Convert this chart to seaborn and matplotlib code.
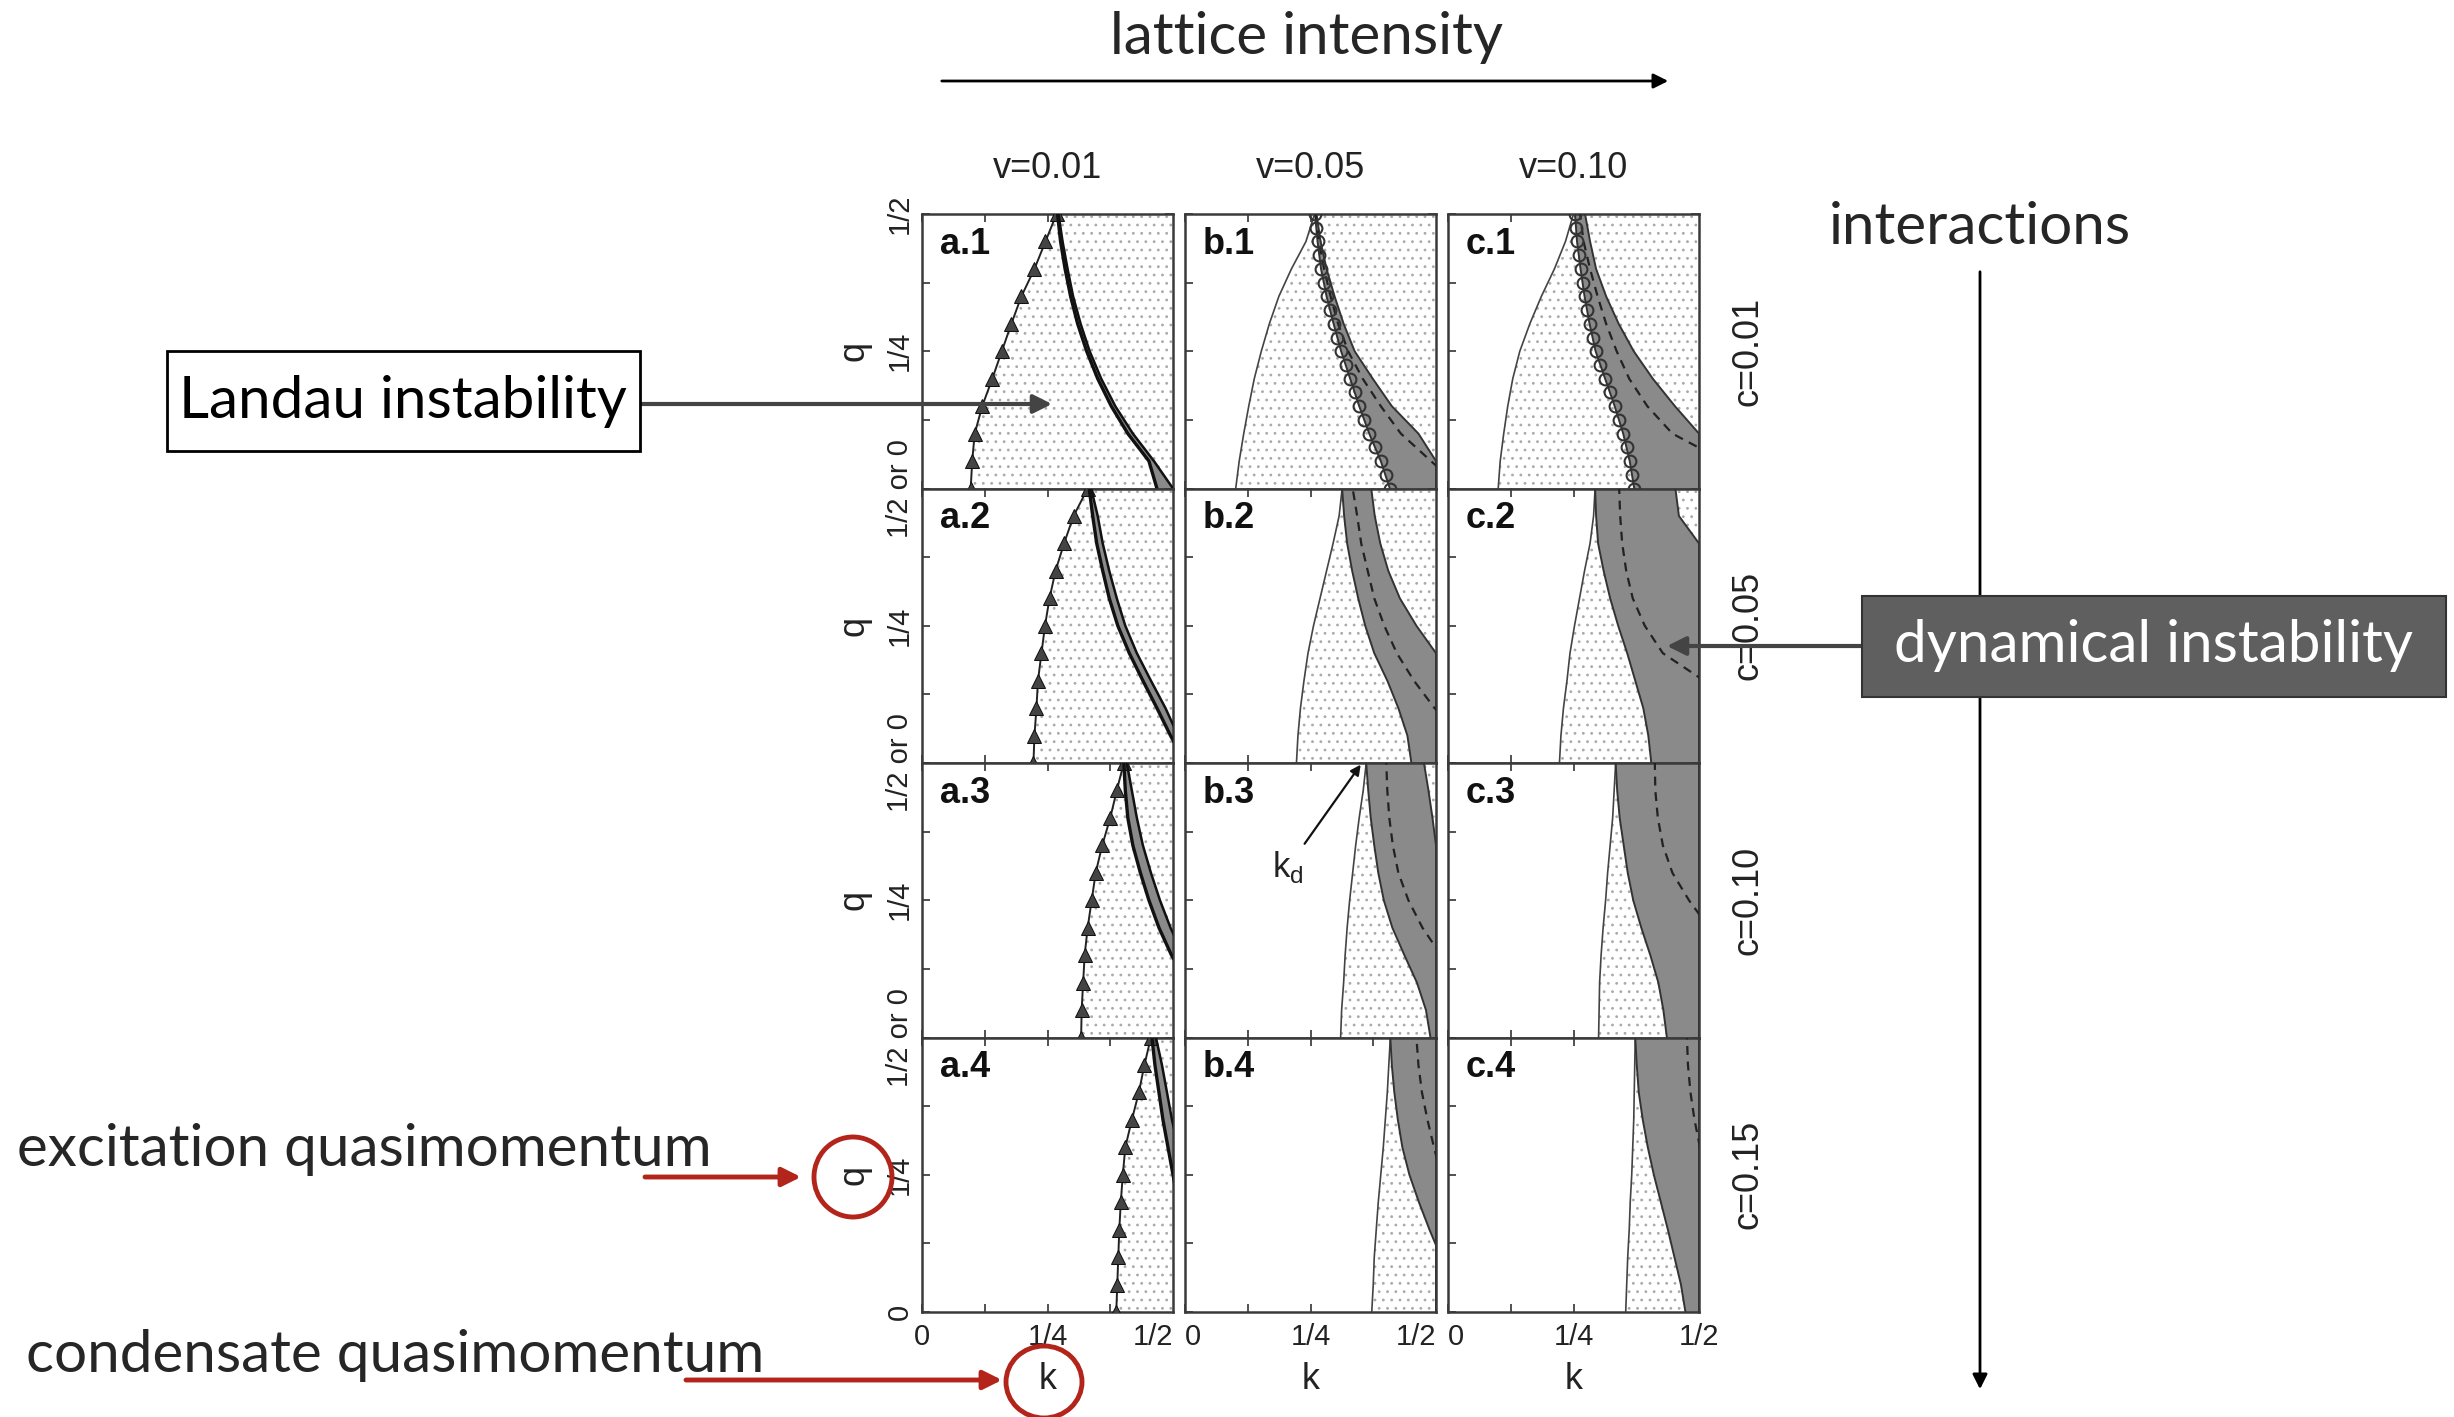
import numpy as np
import pandas as pd
import matplotlib
matplotlib.use("Agg")
import matplotlib.pyplot as plt
import seaborn as sns
from matplotlib.patches import Ellipse, Rectangle

# ---------------- data (k values read at each q of Q) ----------------
Q = [0.0, 0.05, 0.10, 0.15, 0.20, 0.25, 0.30, 0.35, 0.40, 0.45, 0.50]
CIRC_Q = [0.0, 0.025, 0.05, 0.075, 0.10, 0.125, 0.15, 0.175, 0.20, 0.225, 0.25,
          0.275, 0.30, 0.325, 0.35, 0.375, 0.40, 0.425, 0.45, 0.475, 0.50]
nan = np.nan

columns = ["v=0.01", "v=0.05", "v=0.10"]
rows = ["c=0.01", "c=0.05", "c=0.10", "c=0.15"]
tick_labels_k = ["0", "1/4", "1/2"]

landau = {
    "a.1": [0.097, 0.100, 0.105, 0.120, 0.140, 0.159, 0.178, 0.198, 0.224, 0.246, 0.268],
    "a.2": [0.222, 0.224, 0.228, 0.231, 0.238, 0.245, 0.254, 0.266, 0.283, 0.302, 0.330],
    "a.3": [0.317, 0.318, 0.321, 0.324, 0.330, 0.338, 0.346, 0.359, 0.375, 0.388, 0.402],
    "a.4": [0.387, 0.389, 0.391, 0.393, 0.396, 0.400, 0.405, 0.418, 0.432, 0.443, 0.456],
    "b.1": [0.101, 0.108, 0.117, 0.127, 0.138, 0.152, 0.168, 0.187, 0.212, 0.241, 0.258],
    "c.1": [0.100, 0.104, 0.111, 0.119, 0.129, 0.143, 0.163, 0.186, 0.212, 0.234, 0.250],
    "b.2": [0.222, 0.225, 0.230, 0.237, 0.245, 0.256, 0.269, 0.282, 0.295, 0.307, 0.313],
    "c.2": [0.222, 0.225, 0.230, 0.237, 0.243, 0.252, 0.262, 0.272, 0.283, 0.290, 0.293],
    "b.3": [0.310, 0.312, 0.316, 0.319, 0.323, 0.328, 0.334, 0.340, 0.347, 0.355, 0.361],
    "c.3": [0.300, 0.301, 0.302, 0.305, 0.309, 0.314, 0.318, 0.323, 0.328, 0.331, 0.334],
    "b.4": [0.372, 0.375, 0.377, 0.381, 0.385, 0.390, 0.395, 0.399, 0.403, 0.406, 0.409],
    "c.4": [0.354, 0.356, 0.358, 0.361, 0.363, 0.366, 0.368, 0.370, 0.371, 0.372, 0.373],
}

dyn_left = {
    "a.1": [0.468, 0.452, 0.410, 0.377, 0.350, 0.328, 0.310, 0.296, 0.285, 0.276, 0.270],
    "a.2": [0.525, 0.495, 0.468, 0.440, 0.413, 0.390, 0.373, 0.360, 0.348, 0.340, 0.333],
    "a.3": [0.600, 0.560, 0.530, 0.497, 0.472, 0.452, 0.435, 0.420, 0.410, 0.405, 0.402],
    "a.4": [0.550, 0.540, 0.530, 0.520, 0.510, 0.500, 0.490, 0.480, 0.472, 0.464, 0.458],
    "b.1": [0.408, 0.390, 0.367, 0.347, 0.329, 0.311, 0.296, 0.282, 0.271, 0.264, 0.259],
    "c.1": [0.371, 0.362, 0.349, 0.332, 0.313, 0.294, 0.282, 0.272, 0.264, 0.257, 0.253],
    "b.2": [0.451, 0.443, 0.425, 0.403, 0.377, 0.359, 0.345, 0.333, 0.323, 0.317, 0.313],
    "c.2": [0.405, 0.399, 0.389, 0.373, 0.357, 0.339, 0.323, 0.310, 0.299, 0.295, 0.293],
    "b.3": [0.489, 0.480, 0.462, 0.437, 0.413, 0.396, 0.385, 0.377, 0.370, 0.365, 0.361],
    "c.3": [0.436, 0.429, 0.419, 0.403, 0.385, 0.369, 0.358, 0.350, 0.342, 0.337, 0.334],
    "b.4": [0.570, 0.540, 0.510, 0.487, 0.466, 0.447, 0.433, 0.424, 0.417, 0.412, 0.409],
    "c.4": [0.473, 0.464, 0.451, 0.438, 0.424, 0.410, 0.398, 0.388, 0.380, 0.376, 0.373],
}

dyn_right = {
    "a.1": [0.500, 0.462, 0.420, 0.385, 0.357, 0.334, 0.316, 0.301, 0.290, 0.280, 0.272],
    "a.2": [0.540, 0.510, 0.485, 0.456, 0.428, 0.405, 0.388, 0.373, 0.360, 0.350, 0.337],
    "a.3": [0.620, 0.580, 0.550, 0.520, 0.495, 0.474, 0.456, 0.440, 0.428, 0.418, 0.408],
    "a.4": [0.570, 0.560, 0.550, 0.540, 0.530, 0.520, 0.510, 0.498, 0.488, 0.478, 0.466],
    "b.1": [0.500, 0.500, 0.465, 0.412, 0.374, 0.338, 0.316, 0.298, 0.282, 0.270, 0.262],
    "c.1": [0.500, 0.500, 0.500, 0.452, 0.408, 0.370, 0.340, 0.315, 0.295, 0.283, 0.273],
    "b.2": [0.500, 0.500, 0.500, 0.500, 0.500, 0.461, 0.428, 0.405, 0.389, 0.378, 0.371],
    "c.2": [0.500, 0.500, 0.500, 0.500, 0.500, 0.500, 0.500, 0.500, 0.500, 0.460, 0.453],
    "b.3": [0.500, 0.500, 0.500, 0.500, 0.500, 0.500, 0.500, 0.500, 0.493, 0.485, 0.476],
    "c.3": [0.500, 0.500, 0.500, 0.500, 0.500, 0.500, 0.500, 0.500, 0.500, 0.500, 0.500],
    "b.4": [0.500, 0.500, 0.500, 0.500, 0.500, 0.500, 0.500, 0.500, 0.500, 0.500, 0.500],
    "c.4": [0.500, 0.500, 0.500, 0.500, 0.500, 0.500, 0.500, 0.500, 0.500, 0.500, 0.500],
}

dashed = {
    "b.1": [0.550, 0.490, 0.430, 0.390, 0.354, 0.325, 0.305, 0.290, 0.277, 0.267, 0.260],
    "c.1": [nan, 0.550, 0.447, 0.397, 0.361, 0.336, 0.315, 0.298, 0.283, 0.270, 0.263],
    "b.2": [nan, 0.550, 0.497, 0.456, 0.422, 0.397, 0.377, 0.364, 0.351, 0.343, 0.334],
    "c.2": [nan, nan, nan, 0.510, 0.428, 0.392, 0.368, 0.355, 0.347, 0.343, 0.341],
    "b.3": [nan, nan, nan, 0.510, 0.473, 0.445, 0.425, 0.414, 0.407, 0.403, 0.401],
    "c.3": [nan, nan, nan, nan, 0.520, 0.480, 0.447, 0.428, 0.418, 0.413, 0.412],
    "b.4": [nan, nan, nan, nan, nan, 0.510, 0.496, 0.483, 0.472, 0.465, 0.461],
    "c.4": [nan, nan, nan, nan, nan, nan, 0.502, 0.491, 0.483, 0.478, 0.476],
}

circles_b1 = [0.408, 0.400, 0.390, 0.378, 0.367, 0.357, 0.347, 0.338, 0.329, 0.320, 0.311,
              0.303, 0.296, 0.289, 0.282, 0.276, 0.271, 0.267, 0.264, 0.261, 0.259]
circles_c1 = [0.371, 0.367, 0.362, 0.356, 0.349, 0.341, 0.332, 0.322, 0.313, 0.303, 0.294,
              0.288, 0.282, 0.277, 0.272, 0.268, 0.264, 0.260, 0.257, 0.255, 0.253]
circles = {"b.1": circles_b1, "c.1": circles_c1}

# ---------------- style ----------------
W, H = 2454, 1417
sns.set_theme(style="ticks")
plt.rcParams["font.family"] = ["Liberation Sans", "DejaVu Sans"]
plt.rcParams["hatch.color"] = "#a9a9a9"
plt.rcParams["hatch.linewidth"] = 0.8
SANS2 = ["Lato", "DejaVu Sans"]
DARK = "#8a8a8a"
RED = "#b3241a"
BIG = 42

fig = plt.figure(figsize=(W / 100, H / 100), dpi=100)
fig.patch.set_facecolor("white")

COL_X = [922, 1185, 1448]
COL_W = 251
ROW_Y = [214, 488.5, 763, 1037.5]
ROW_H = 274.5


def sline(ax, k, q, **kw):
    df = pd.DataFrame({"k": k, "q": q}).dropna()
    sns.lineplot(data=df, x="k", y="q", ax=ax, estimator=None, sort=False, **kw)


for r in range(4):
    for c in range(3):
        name = f"{'abc'[c]}.{r + 1}"
        ax = fig.add_axes([COL_X[c] / W, 1 - (ROW_Y[r] + ROW_H) / H, COL_W / W, ROW_H / H])
        ax.set_facecolor("white")
        # Landau-unstable region (dotted)
        ax.fill_betweenx(Q, landau[name], 0.5, facecolor="white", edgecolor="#a9a9a9",
                         hatch="..", linewidth=0, zorder=1)
        # dynamically unstable region
        ax.fill_betweenx(Q, dyn_left[name], dyn_right[name], facecolor=DARK,
                         edgecolor="none", zorder=2)
        if c == 0:
            sline(ax, landau[name], Q, color="#222", lw=1.4, marker="^", markersize=10,
                  markeredgecolor="#111", markerfacecolor="#444", zorder=4)
            sline(ax, dyn_left[name], Q, color="#111", lw=2.4, zorder=4)
            sline(ax, dyn_right[name], Q, color="#111", lw=1.8, zorder=4)
        else:
            sline(ax, landau[name], Q, color="#444", lw=1.2, zorder=3)
            sline(ax, dyn_left[name], Q, color="#333", lw=1.4, zorder=3)
            sline(ax, dyn_right[name], Q, color="#333", lw=1.4, zorder=3)
            sline(ax, dashed[name], Q, color="#222", lw=1.6, linestyle=(0, (4, 3)), zorder=4)
            if name in circles:
                sline(ax, circles[name], CIRC_Q, color="#333", linestyle="none", marker="o",
                      markersize=8.5, markerfacecolor="none", markeredgecolor="#333",
                      markeredgewidth=1.5, zorder=5)

        ax.set_xlim(0, 0.5)
        ax.set_ylim(0, 0.5)
        ax.set_xticks([0, 0.25, 0.5])
        ax.set_xticks([0.125, 0.375], minor=True)
        ax.set_yticks([0, 0.25, 0.5])
        ax.set_yticks([0.125, 0.375], minor=True)
        ax.tick_params(which="both", direction="in", top=True, right=True, length=6,
                       width=1.2, color="#333", labelsize=21, labelcolor="#222")
        for sp in ax.spines.values():
            sp.set_linewidth(1.8)
            sp.set_color("#3a3a3a")
        ax.set_xlabel("")
        ax.set_ylabel("")

        if r == 3:
            ax.set_xticklabels(tick_labels_k)
            ax.tick_params(axis="x", pad=8)
            labs = ax.get_xticklabels()
            if c > 0:
                labs[0].set_horizontalalignment("left")
            if c < 2:
                labs[2].set_horizontalalignment("right")
            ax.set_xlabel("k", fontsize=26, labelpad=8, color="#222")
        else:
            ax.tick_params(labelbottom=False)

        if c == 0:
            if r == 0:
                ylabs = ["1/2 or 0", "1/4", "1/2"]
            elif r == 3:
                ylabs = ["0", "1/4", ""]
            else:
                ylabs = ["1/2 or 0", "1/4", ""]
            ax.set_yticklabels(ylabs, rotation=90, va="center")
            ax.tick_params(axis="y", pad=6)
            ax.set_ylabel("q", fontsize=26, labelpad=10, color="#222")
        else:
            ax.tick_params(labelleft=False)

        ax.text(0.07, 0.89, name, transform=ax.transAxes, fontsize=26, fontweight="bold",
                ha="left", va="center", zorder=6, color="#111")

        if name == "b.3":
            ax.annotate(r"k$_\mathregular{d}$", xy=(0.350, 0.497), xytext=(0.205, 0.31),
                        fontsize=25, ha="center", va="center", color="#222", zorder=7,
                        annotation_clip=False,
                        arrowprops=dict(arrowstyle="-|>", color="#111", lw=1.6,
                                        mutation_scale=15, shrinkA=2, shrinkB=0))

# ---------------- overlay annotations (pixel coordinates) ----------------
ov = fig.add_axes([0, 0, 1, 1], zorder=20)
ov.set_xlim(0, W)
ov.set_ylim(H, 0)
ov.axis("off")
ov.patch.set_alpha(0)

for c, lab in enumerate(columns):
    ov.text(COL_X[c] + COL_W / 2, 169, lab, fontsize=26, ha="center", va="center", color="#222")
for r, lab in enumerate(rows):
    ov.text(1748, ROW_Y[r] + ROW_H / 2, lab, fontsize=26, rotation=90, ha="center",
            va="center", color="#222")

ov.text(1307, 38, "lattice intensity", fontsize=BIG, family=SANS2, ha="center", va="center")
ov.annotate("", xy=(1671, 81), xytext=(939, 81),
            arrowprops=dict(arrowstyle="-|>", lw=2, color="black", mutation_scale=22))

ov.text(1980, 227, "interactions", fontsize=BIG, family=SANS2, ha="center", va="center")
ov.annotate("", xy=(1980, 1392), xytext=(1980, 269),
            arrowprops=dict(arrowstyle="-|>", lw=2, color="black", mutation_scale=22))

ov.add_patch(Rectangle((1862, 596), 584, 101, facecolor="#5f5f5f", edgecolor="#333",
                       lw=1.5, zorder=5))
ov.text(2154, 646, "dynamical instability", fontsize=BIG, family=SANS2, color="white",
        ha="center", va="center", zorder=6)
ov.annotate("", xy=(1667, 646), xytext=(1862, 646),
            arrowprops=dict(arrowstyle="-|>", lw=3, color="#444", mutation_scale=28,
                            shrinkA=0, shrinkB=0))

ov.add_patch(Rectangle((167, 351), 473, 100, facecolor="white", edgecolor="black",
                       lw=2, zorder=5))
ov.text(403, 401, "Landau instability", fontsize=BIG, family=SANS2, color="black",
        ha="center", va="center", zorder=6)
ov.annotate("", xy=(1052, 404), xytext=(640, 404),
            arrowprops=dict(arrowstyle="-|>", lw=3, color="#444", mutation_scale=28,
                            shrinkA=0, shrinkB=0))

ov.text(17, 1150, "excitation quasimomentum", fontsize=BIG, family=SANS2, ha="left",
        va="center")
ov.annotate("", xy=(801, 1177), xytext=(645, 1177),
            arrowprops=dict(arrowstyle="-|>", lw=3.5, color=RED, mutation_scale=28,
                            shrinkA=0, shrinkB=0))
ov.add_patch(Ellipse((853, 1177), 78, 80, fill=False, edgecolor=RED, lw=3.5))

ov.text(26, 1355, "condensate quasimomentum", fontsize=BIG, family=SANS2, ha="left",
        va="center")
ov.annotate("", xy=(1002, 1380), xytext=(686, 1380),
            arrowprops=dict(arrowstyle="-|>", lw=3.5, color=RED, mutation_scale=28,
                            shrinkA=0, shrinkB=0))
ov.add_patch(Ellipse((1044, 1382), 76, 72, fill=False, edgecolor=RED, lw=3.5))

fig.savefig("out.png", dpi=100, facecolor="white")
